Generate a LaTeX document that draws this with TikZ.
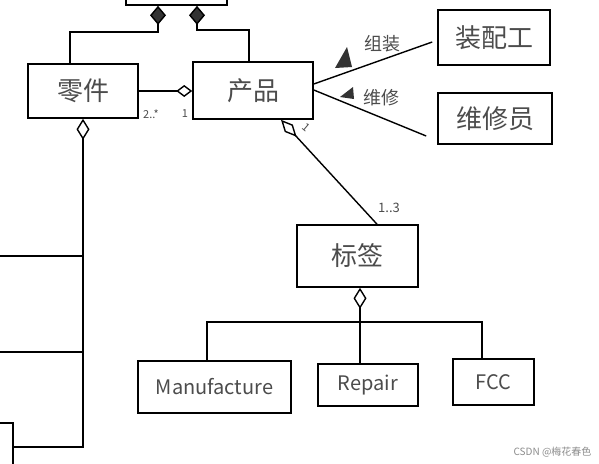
\documentclass[tikz,border=0pt]{standalone}
\usepackage{fontspec}
\setmainfont{Noto Sans CJK SC}
\usetikzlibrary{arrows.meta}
\tikzset{
  cls/.style={draw, line width=1.6pt, inner sep=0pt, text=black!70, font=\fontsize{26}{28}\selectfont},
  lat/.style={font=\fontsize{20}{22}\selectfont},
  lnk/.style={line width=1.4pt},
  comp/.style={lnk, -{Diamond[fill=black!80, length=19pt, width=16pt]}},
  aggE/.style={lnk, -{Diamond[open, length=16pt, width=12pt]}},
  aggS/.style={lnk, {Diamond[open, length=21pt, width=13pt]}-},
  role/.style={text=black!70, font=\fontsize{18}{20}\selectfont},
  mult/.style={text=black!70, font=\fontsize{11}{12}\selectfont}
}
\begin{document}
\begin{tikzpicture}[x=1pt, y=-1pt]
  \useasboundingbox (0,0) rectangle (599,463);
  \fill[white] (0,0) rectangle (599,463);
  \clip (0,0) rectangle (599,463);

  % classes
  \node[cls, minimum width=101pt, minimum height=45pt] (zhengti) at (176.5,-17.5) {};
  \node[cls, minimum width=110pt, minimum height=54pt] (lingjian) at (83,91) {零件};
  \node[cls, minimum width=120pt, minimum height=57pt] (chanpin) at (253,90.5) {产品};
  \node[cls, minimum width=112pt, minimum height=55pt] (zpg) at (494,37.5) {装配工};
  \node[cls, minimum width=114pt, minimum height=51pt] (wxy) at (495,118.5) {维修员};
  \node[cls, minimum width=121pt, minimum height=62pt] (biaoqian) at (357.5,256) {标签};
  \node[cls, lat, minimum width=153pt, minimum height=52pt] (manu) at (214.5,387) {Manufacture};
  \node[cls, lat, minimum width=100pt, minimum height=42pt] (repair) at (368,385) {Repair};
  \node[cls, lat, minimum width=81pt, minimum height=46pt] (fcc) at (493.5,382) {FCC};
  \node[cls, minimum width=113pt, minimum height=137pt] (offbox) at (-43.5,491.5) {};

  % composition vers le haut
  \coordinate (c1) at (70,32);  \coordinate (c2) at (158,32);
  \coordinate (c3) at (249,30); \coordinate (c4) at (197,30);
  \draw[comp] (lingjian.north -| c1) -- (c1) -- (c2) -- (c2 |- zhengti.south);
  \draw[comp] (chanpin.north -| c3) -- (c3) -- (c4) -- (c4 |- zhengti.south);

  % lingjian -- chanpin
  \draw[aggE] (lingjian.east) -- (lingjian.east -| chanpin.west);
  \node[mult] (m1) at (151,114) {2..*};
  \node[mult] (m2) at (185,114) {1};

  % spine under lingjian
  \coordinate (yb) at (0,448);
  \coordinate (l1) at (0,256); \coordinate (l2) at (0,352); \coordinate (l3) at (0,447);
  \draw[aggS] (lingjian.south) -- (lingjian.south |- yb);
  \draw[lnk] (l1) -- (l1 -| lingjian.south);
  \draw[lnk] (l2) -- (l2 -| lingjian.south);
  \draw[lnk] (l3 -| offbox.east) -- (l3 -| lingjian.south);

  % roles of chanpin
  \coordinate (r1) at (0,84); \coordinate (r3) at (0,90);
  \draw[lnk] (chanpin.east |- r1) -- ([xshift=-5pt, yshift=-4.5pt]zpg.west);
  \draw[lnk] (chanpin.east |- r3) -- ([xshift=-11pt, yshift=-17.5pt]wxy.west);
  \fill[black!80] (347,47) -- (335,68) -- (352,67) -- cycle;
  \fill[black!80] (340,97) -- (353,87) -- (354,99) -- cycle;
  \node[role] (rzz) at (382,44) {组装};
  \node[role] (rwx) at (381,98) {维修};

  % chanpin -- biaoqian
  \coordinate (pb) at (281,0); \coordinate (qb) at (377,0);
  \draw[lnk, {Diamond[open, length=23pt, width=11pt]}-] (chanpin.south -| pb) -- (biaoqian.north -| qb);
  \node[mult, rotate=-40] (m3) at (306,127) {1};
  \node[mult, font=\fontsize{13}{14}\selectfont] (m4) at (389,208) {1..3};

  % biaoqian -- children
  \coordinate (rx) at (360,0);
  \draw[aggS] (biaoqian.south -| rx) -- (repair.north -| rx);
  \coordinate (mx) at (207,322); \coordinate (fx) at (482,322);
  \draw[lnk] (manu.north -| mx) -- (mx) -- (fx) -- (fx |- fcc.north);

  \node[text=black!45, font=\fontsize{10}{12}\selectfont, anchor=east] (wm) at (595,452) {CSDN @梅花春色};
\end{tikzpicture}
\end{document}
